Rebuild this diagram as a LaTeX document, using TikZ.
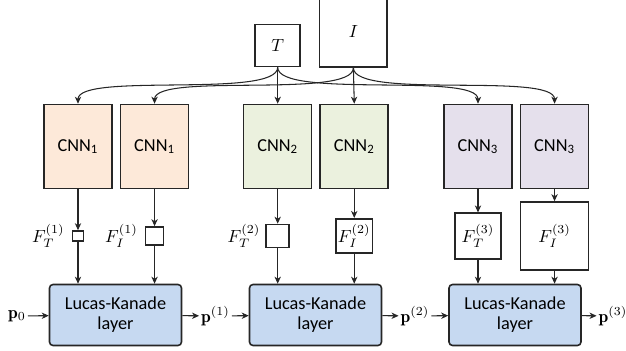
\documentclass[tikz,border=0pt]{standalone}
\usepackage{fontspec}
\setsansfont{Carlito}
\usetikzlibrary{positioning,arrows.meta}
\definecolor{cnnorange}{HTML}{FDE9D9}
\definecolor{cnngreen}{HTML}{EBF1DE}
\definecolor{cnnpurple}{HTML}{E5E0EC}
\definecolor{lkblue}{HTML}{C6D9F1}
\begin{document}
\begin{tikzpicture}[
  x=0.02cm, y=0.02cm,
  box/.style={draw=black!85, line width=0.9pt, inner sep=0pt, fill=white},
  cnn/.style={box, minimum width=1.36cm, minimum height=1.68cm,
              font=\sffamily\fontsize{10.4}{12}\selectfont},
  lk/.style={box, rounded corners=2pt, fill=lkblue, align=center,
             minimum width=2.64cm, minimum height=1.22cm,
             font=\sffamily\fontsize{10.4}{11.5}\selectfont},
  lbl/.style={inner sep=1pt, font=\fontsize{10}{12}\selectfont},
  arrow/.style={-{Stealth[length=4pt,width=3.6pt,inset=1.2pt]},
                line width=0.6pt, black!85},
  curvearrow/.style={arrow, out=-90, in=90, looseness=0.4},
]
\useasboundingbox (0,0) rectangle (626,351);
% Eingaben
\node[box, minimum width=0.9cm, minimum height=0.84cm] (T) at (277.7,305.5) {$T$};
\node[box, minimum width=1.35cm, minimum height=1.4cm] (I) at (353.4,319) {$I$};
% CNNs
\node[cnn, fill=cnnorange] (cnn1T) at (78,204.5) {CNN\textsubscript{1}};
\node[cnn, fill=cnnorange, right=0.14cm of cnn1T] (cnn1I) {CNN\textsubscript{1}};
\node[cnn, fill=cnngreen] (cnn2T) at (277.7,204.5) {CNN\textsubscript{2}};
\node[cnn, fill=cnngreen, right=0.14cm of cnn2T] (cnn2I) {CNN\textsubscript{2}};
\node[cnn, fill=cnnpurple] (cnn3T) at (478,204.5) {CNN\textsubscript{3}};
\node[cnn, fill=cnnpurple, right=0.14cm of cnn3T] (cnn3I) {CNN\textsubscript{3}};
% Merkmale
\node[box, minimum width=0.22cm, minimum height=0.2cm] (fT1) at (cnn1T |- 0,115) {};
\node[box, minimum size=0.36cm] (fI1) at (cnn1I |- 0,115) {};
\node[box, minimum size=0.46cm] (fT2) at (cnn2T |- 0,115) {};
\node[box, minimum size=0.69cm, lbl] (fI2) at (cnn2I |- 0,115) {$F_I^{(2)}$};
\node[box, minimum size=0.91cm, lbl] (fT3) at (cnn3T |- 0,115) {$F_T^{(3)}$};
\node[box, minimum size=1.36cm, lbl] (fI3) at (cnn3I |- 0,115) {$F_I^{(3)}$};
\node[lbl, left=0.1cm of fT1] (lT1) {$F_T^{(1)}$};
\node[lbl, left=0.1cm of fI1] (lI1) {$F_I^{(1)}$};
\node[lbl, left=0.06cm of fT2] (lT2) {$F_T^{(2)}$};
% Lucas-Kanade
\node[lk] (lk1) at (115.5,36) {Lucas-Kanade\\layer};
\node[lk] (lk2) at (315.5,36) {Lucas-Kanade\\layer};
\node[lk] (lk3) at (515,36) {Lucas-Kanade\\layer};
\node[lbl] (p0) at (17,35) {$\mathbf{p}_0$};
\node[lbl] (p1) at (215.5,35) {$\mathbf{p}^{(1)}$};
\node[lbl] (p2) at (415,35) {$\mathbf{p}^{(2)}$};
\node[lbl] (p3) at (613,35) {$\mathbf{p}^{(3)}$};

% Verbindungen
\draw[curvearrow] (T.south) to (cnn1T.north);
\draw[arrow] (T.south) -- (cnn2T.north);
\draw[curvearrow] (T.south) to (cnn3T.north);
\draw[curvearrow] (I.south) to (cnn1I.north);
\draw[arrow] (I.south) -- (cnn2I.north);
\draw[curvearrow] (I.south) to (cnn3I.north);
\foreach \c/\f in {cnn1T/fT1, cnn1I/fI1, cnn2T/fT2, cnn2I/fI2, cnn3T/fT3, cnn3I/fI3}
  \draw[arrow] (\c.south) -- (\f.north);
\foreach \f/\l in {fT1/lk1, fI1/lk1, fT2/lk2, fI2/lk2, fT3/lk3, fI3/lk3}
  \draw[arrow] (\f.south) -- (\f |- \l.north);
\draw[arrow] (p0) -- (lk1);
\draw[arrow] (lk1) -- (p1);
\draw[arrow] (p1) -- (lk2);
\draw[arrow] (lk2) -- (p2);
\draw[arrow] (p2) -- (lk3);
\draw[arrow] (lk3) -- (p3);
\end{tikzpicture}
\end{document}
